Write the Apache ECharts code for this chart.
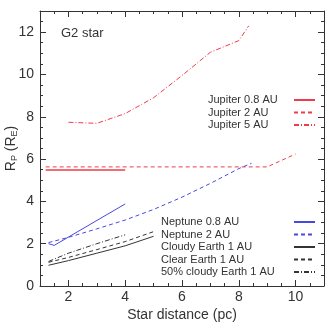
<!DOCTYPE html>
<html>
<head>
<meta charset="utf-8">
<script src="https://cdn.jsdelivr.net/npm/echarts@6/dist/echarts.min.js"></script>
<style>
  html, body { margin: 0; padding: 0; background: #fff; }
  #chart { width: 328px; height: 323px; }
</style>
</head>
<body>
<div id="chart"></div>
<script>
// data
const jup08X = [1.2, 4.0];
const jup08Y = [5.48, 5.48];
const jup2X = [1.2, 9.0, 10.0];
const jup2Y = [5.63, 5.63, 6.24];
const jup5X = [2.0, 3.0, 4.0, 5.0, 6.0, 7.0, 8.0, 8.35];
const jup5Y = [7.74, 7.69, 8.15, 8.9, 9.95, 11.05, 11.6, 12.3];
const nep08X = [1.3, 1.5, 4.0];
const nep08Y = [2.0, 1.92, 3.88];
const nep2X = [1.3, 2, 3, 4, 5, 6, 7, 8, 8.45];
const nep2Y = [2.05, 2.3, 2.7, 3.12, 3.62, 4.2, 4.85, 5.55, 5.8];
const cloudyX = [1.3, 2, 3, 4, 5];
const cloudyY = [0.98, 1.2, 1.55, 1.9, 2.35];
const clearX = [1.3, 2, 3, 4, 5];
const clearY = [1.12, 1.35, 1.72, 2.1, 2.57];
const halfX = [1.3, 2, 3, 4];
const halfY = [1.16, 1.55, 2.0, 2.42];

const xMajor = [2, 4, 6, 8, 10];
const xMinor = [1.5, 2.5, 3, 3.5, 4.5, 5, 5.5, 6.5, 7, 7.5, 8.5, 9, 9.5, 10.5];
const yMajor = [0, 2, 4, 6, 8, 10, 12];
const yMinor = [];
for (let v = 0.5; v < 13; v += 0.5) if (v % 2 !== 0) yMinor.push(v);

const pairs = (xs, ys) => xs.map((x, i) => [x, ys[i]]);

const red = "#ee3d4a";
const blue = "#4848e0";
const dark = "#333333";
const font = "Liberation Sans";

const mychart = echarts.init(document.getElementById("chart"));

const rect = { left: 40, right: 4, top: 11, bottom: 37, outerBoundsMode: "none", containLabel: false };
const xBase = { type: "value", min: 1, max: 11, splitLine: { show: false } };
const yBase = { type: "value", min: 0, max: 13, splitLine: { show: false } };
const lineAx = { show: true, onZero: false, lineStyle: { color: dark, width: 1 } };
const noLine = { show: false, onZero: false };
const noLabel = { show: false };
const tick = (vals, len) => ({ inside: true, length: len, customValues: vals, lineStyle: { color: dark } });

const lineSeries = (name, xs, ys, color, type, width) => ({
  name: name,
  type: "line",
  data: pairs(xs, ys),
  symbol: "none",
  xAxisIndex: 0,
  yAxisIndex: 0,
  lineStyle: { color: color, width: width || 1, type: type },
  itemStyle: { color: color },
  animation: false,
});

const dash = [4, 3];
const dashDot = [5, 2, 1, 2];

// legend text is left aligned in a fixed box, the sample line sits to its right
const legendBox = (left, top, names, boxWidth) => ({
  data: names,
  orient: "vertical",
  left: left,
  top: top,
  align: "right",
  itemWidth: 21,
  itemHeight: 1,
  itemGap: 0.5,
  padding: 0,
  itemStyle: { color: "rgba(0,0,0,0)", borderWidth: 0, opacity: 0 },
  formatter: (name) => "{t|" + name + "}",
  textStyle: {
    fontSize: 11,
    color: dark,
    fontFamily: font,
    lineHeight: 12,
    rich: { t: { width: boxWidth, align: "left", fontSize: 11, color: dark, fontFamily: font, lineHeight: 12 } },
  },
});

const option = {
  animation: false,
  textStyle: { fontFamily: font },
  // grid 0 carries the frame, labels and major ticks, grid 1 (same box) the minor ticks
  grid: [Object.assign({}, rect), Object.assign({}, rect)],
  title: {
    text: "G2 star",
    left: 56,
    top: 22,
    textStyle: { fontSize: 13, fontWeight: "normal", color: dark, fontFamily: font },
  },
  xAxis: [
    Object.assign({}, xBase, {
      gridIndex: 0,
      position: "bottom",
      axisLine: lineAx,
      axisTick: tick(xMajor, 6),
      axisLabel: { customValues: xMajor, fontSize: 14, color: dark, margin: 4, fontFamily: font },
      name: "Star distance (pc)",
      nameLocation: "middle",
      nameGap: 22,
      nameMoveOverlap: false,
      nameTextStyle: { fontSize: 14, color: dark, fontFamily: font },
    }),
    Object.assign({}, xBase, {
      gridIndex: 0,
      position: "top",
      axisLine: lineAx,
      axisTick: tick(xMajor, 6),
      axisLabel: noLabel,
    }),
    Object.assign({}, xBase, {
      gridIndex: 1,
      position: "bottom",
      axisLine: noLine,
      axisTick: tick(xMinor, 3),
      axisLabel: noLabel,
    }),
    Object.assign({}, xBase, {
      gridIndex: 1,
      position: "top",
      axisLine: noLine,
      axisTick: tick(xMinor, 3),
      axisLabel: noLabel,
    }),
  ],
  yAxis: [
    Object.assign({}, yBase, {
      gridIndex: 0,
      position: "left",
      axisLine: lineAx,
      axisTick: tick(yMajor, 6),
      axisLabel: { customValues: yMajor, fontSize: 14, color: dark, margin: 6, fontFamily: font },
      name: "R{s|P} (R{s|E})",
      nameLocation: "middle",
      nameGap: 21,
      nameRotate: 90,
      nameMoveOverlap: false,
      nameTextStyle: {
        fontSize: 14,
        color: dark,
        fontFamily: font,
        rich: { s: { fontSize: 9, color: dark, fontFamily: font, verticalAlign: "bottom", padding: [6, 0, 0, 0] } },
      },
    }),
    Object.assign({}, yBase, {
      gridIndex: 0,
      position: "right",
      axisLine: lineAx,
      axisTick: tick(yMajor, 6),
      axisLabel: noLabel,
    }),
    Object.assign({}, yBase, {
      gridIndex: 1,
      position: "left",
      axisLine: noLine,
      axisTick: tick(yMinor, 3),
      axisLabel: noLabel,
    }),
    Object.assign({}, yBase, {
      gridIndex: 1,
      position: "right",
      axisLine: noLine,
      axisTick: tick(yMinor, 3),
      axisLabel: noLabel,
    }),
  ],
  legend: [
    legendBox(208, 94, ["Jupiter 0.8 AU", "Jupiter 2 AU", "Jupiter 5 AU"], 81),
    legendBox(161, 216, ["Neptune 0.8 AU", "Neptune 2 AU", "Cloudy Earth 1 AU", "Clear Earth 1 AU", "50% cloudy Earth 1 AU"], 128),
  ],
  series: [
    lineSeries("Jupiter 0.8 AU", jup08X, jup08Y, red, "solid", 1.5),
    lineSeries("Jupiter 2 AU", jup2X, jup2Y, red, dash),
    lineSeries("Jupiter 5 AU", jup5X, jup5Y, red, dashDot),
    lineSeries("Neptune 0.8 AU", nep08X, nep08Y, blue, "solid"),
    lineSeries("Neptune 2 AU", nep2X, nep2Y, blue, dash),
    lineSeries("Cloudy Earth 1 AU", cloudyX, cloudyY, dark, "solid"),
    lineSeries("Clear Earth 1 AU", clearX, clearY, dark, dash),
    lineSeries("50% cloudy Earth 1 AU", halfX, halfY, dark, dashDot),
  ],
};
mychart.setOption(option);
</script>
</body>
</html>
